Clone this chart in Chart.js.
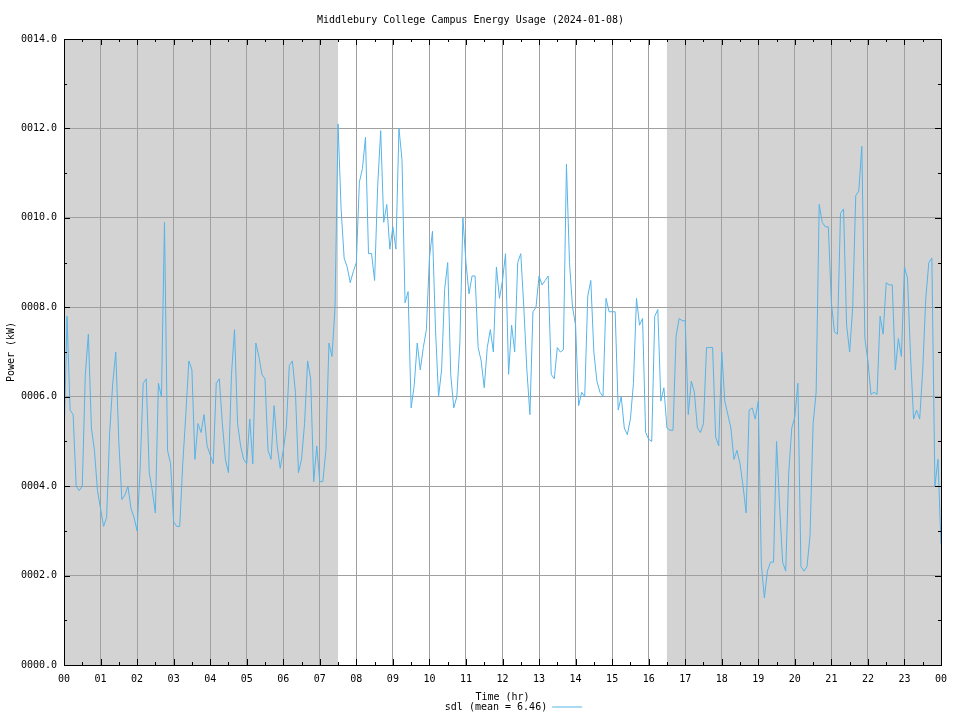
<!DOCTYPE html>
<html>
<head>
<meta charset="utf-8">
<title>Middlebury College Campus Energy Usage</title>
<script src="https://cdn.jsdelivr.net/npm/chart.js@4.4.1/dist/chart.umd.min.js"></script>
<style>
  html, body { margin: 0; padding: 0; background: #fff; }
  canvas { display: block; }
</style>
</head>
<body>
<canvas id="energy" width="960" height="720"></canvas>
<script>
const chartTitle = 'Middlebury College Campus Energy Usage (2024-01-08)'
const seriesLabel = 'sdl (mean = 6.46)'
const stepMinutes = 5 // one reading every 5 minutes

// kW readings, 00:00 - 07:55
const power00to07 = [
  5.0, 7.8, 5.7, 5.6, 4.0, 3.9, 4.0, 6.5, 7.4, 5.3, 4.8, 3.9,
  3.5, 3.1, 3.3, 5.2, 6.3, 7.0, 5.0, 3.7, 3.8, 4.0, 3.5, 3.3,
  3.0, 4.4, 6.3, 6.4, 4.3, 3.9, 3.4, 6.3, 6.0, 9.9, 4.8, 4.5,
  3.2, 3.1, 3.1, 4.5, 5.6, 6.8, 6.6, 4.6, 5.4, 5.2, 5.6, 4.9,
  4.7, 4.5, 6.3, 6.4, 5.4, 4.6, 4.3, 6.5, 7.5, 5.4, 4.9, 4.6,
  4.5, 5.5, 4.5, 7.2, 6.9, 6.5, 6.4, 4.8, 4.6, 5.8, 4.9, 4.4,
  4.8, 5.3, 6.7, 6.8, 6.1, 4.3, 4.6, 5.4, 6.8, 6.4, 4.1, 4.9,
  4.1, 4.1, 4.8, 7.2, 6.9, 8.0, 12.1, 10.2, 9.1, 8.9, 8.55, 8.8
]
// 08:00 - 15:55
const power08to15 = [
  9.0, 10.8, 11.1, 11.8, 9.2, 9.2, 8.6, 10.7, 11.95, 9.9, 10.3, 9.3,
  9.8, 9.3, 12.0, 11.3, 8.1, 8.35, 5.75, 6.25, 7.2, 6.6, 7.1, 7.5,
  9.1, 9.7, 7.5, 6.0, 6.6, 8.4, 9.0, 6.5, 5.75, 6.0, 7.2, 10.0,
  9.0, 8.3, 8.7, 8.7, 7.1, 6.8, 6.2, 7.1, 7.5, 7.0, 8.9, 8.2,
  8.6, 9.2, 6.5, 7.6, 7.0, 9.0, 9.2, 8.0, 6.6, 5.6, 7.9, 8.0,
  8.7, 8.5, 8.6, 8.7, 6.5, 6.4, 7.1, 7.0, 7.05, 11.2, 9.0, 8.0,
  7.6, 5.8, 6.1, 6.0, 8.25, 8.6, 7.0, 6.35, 6.1, 6.0, 8.2, 7.9,
  7.9, 7.9, 5.7, 6.0, 5.3, 5.15, 5.5, 6.3, 8.2, 7.6, 7.75, 5.2
]
// 16:00 - 24:00
const power16to24 = [
  5.05, 5.0, 7.8, 7.95, 5.9, 6.2, 5.3, 5.25, 5.25, 7.35, 7.75, 7.7,
  7.7, 5.6, 6.35, 6.1, 5.3, 5.2, 5.4, 7.1, 7.1, 7.1, 5.1, 4.9,
  7.0, 5.9, 5.6, 5.3, 4.6, 4.8, 4.5, 4.0, 3.4, 5.7, 5.75, 5.5,
  5.9, 2.25, 1.5, 2.1, 2.3, 2.3, 5.0, 3.55, 2.3, 2.1, 4.3, 5.3,
  5.55, 6.3, 2.2, 2.1, 2.2, 2.9, 5.4, 6.1, 10.3, 9.9, 9.8, 9.8,
  8.1, 7.45, 7.4, 10.1, 10.2, 7.6, 7.0, 8.0, 10.5, 10.6, 11.6, 7.3,
  6.8, 6.05, 6.1, 6.05, 7.8, 7.4, 8.55, 8.5, 8.5, 6.6, 7.3, 6.9,
  8.9, 8.65, 6.9, 5.5, 5.7, 5.5, 6.6, 8.2, 9.0, 9.1, 4.0, 4.6,
  2.7
]

const xTickLabels = ['00', '01', '02', '03', '04', '05', '06', '07', '08', '09', '10', '11',
  '12', '13', '14', '15', '16', '17', '18', '19', '20', '21', '22', '23', '00']
const yTickLabels = ['0000.0', '0002.0', '0004.0', '0006.0', '0008.0', '0010.0', '0012.0', '0014.0']
const offHours = [[0, 7.5], [16.5, 24]] // shaded (outside work hours)

const power = power00to07.concat(power08to15, power16to24)
const points = power.map((v, i) => ({ x: i * stepMinutes / 60, y: v }))

const mono = "'DejaVu Sans Mono', monospace"
Chart.defaults.font.family = mono
Chart.defaults.font.size = 10
Chart.defaults.color = '#000'

// grey bands behind the grid
const shading = {
  id: 'shading',
  beforeDraw(chart) {
    const { ctx, chartArea, scales: { x } } = chart
    ctx.save()
    ctx.fillStyle = '#d3d3d3'
    offHours.forEach(([a, b]) => {
      const x0 = x.getPixelForValue(a)
      const x1 = x.getPixelForValue(b)
      ctx.fillRect(x0, chartArea.top, x1 - x0, chartArea.bottom - chartArea.top)
    })
    ctx.restore()
  }
}

// gnuplot style frame with inward ticks on all four sides
const frame = {
  id: 'frame',
  afterDatasetsDraw(chart) {
    const { ctx, chartArea: { left, right, top, bottom }, scales: { x, y } } = chart
    ctx.save()
    ctx.strokeStyle = '#000'
    ctx.lineWidth = 1
    ctx.beginPath()
    for (let h = 0; h <= 24; h += 0.5) {
      const px = Math.round(x.getPixelForValue(h)) + 0.5
      const len = h % 1 === 0 ? 6 : 3
      ctx.moveTo(px, bottom); ctx.lineTo(px, bottom - len)
      ctx.moveTo(px, top); ctx.lineTo(px, top + len)
    }
    for (let v = 0; v <= 14; v += 1) {
      const py = Math.round(y.getPixelForValue(v)) + 0.5
      const len = v % 2 === 0 ? 6 : 3
      ctx.moveTo(left, py); ctx.lineTo(left + len, py)
      ctx.moveTo(right, py); ctx.lineTo(right - len, py)
    }
    ctx.stroke()
    ctx.strokeRect(left + 0.5, top + 0.5, right - left, bottom - top)
    ctx.restore()
  }
}

// nudge the legend so the key sits where gnuplot puts it
const legendShift = {
  id: 'legendShift',
  afterLayout(chart) {
    chart.legend.left += 11
    chart.legend.right += 11
  }
}

new Chart(document.getElementById('energy'), {
  type: 'line',
  data: {
    datasets: [{
      label: seriesLabel,
      data: points,
      borderColor: '#56B4E9',
      backgroundColor: '#56B4E9',
      borderWidth: 1,
      pointRadius: 0,
      tension: 0,
      fill: false
    }]
  },
  options: {
    responsive: false,
    animation: false,
    devicePixelRatio: 1,
    layout: { padding: { left: 0, right: 19, top: 0, bottom: 8 } },
    plugins: {
      title: {
        display: true,
        text: chartTitle,
        font: { size: 10, weight: 'normal' },
        color: '#000',
        padding: { top: 14, bottom: 13 }
      },
      legend: {
        position: 'bottom',
        fullSize: false,
        maxHeight: 10,
        rtl: true,
        textDirection: 'ltr',
        labels: {
          boxWidth: 30,
          boxHeight: 1,
          padding: 0,
          font: { size: 10 },
          generateLabels: () => [{
            text: seriesLabel,
            fillStyle: '#56B4E9',
            strokeStyle: '#56B4E9',
            lineWidth: 0,
            datasetIndex: 0
          }]
        }
      },
      tooltip: { enabled: false }
    },
    scales: {
      x: {
        type: 'linear',
        min: 0,
        max: 24,
        ticks: {
          stepSize: 1,
          autoSkip: false,
          maxRotation: 0,
          padding: 8,
          callback: (v) => xTickLabels[v]
        },
        grid: { color: '#a0a0a0', lineWidth: 1, drawTicks: false },
        border: { display: false },
        title: {
          display: true,
          text: 'Time (hr)',
          font: { size: 10, lineHeight: 1 },
          padding: { top: 7, bottom: 0 }
        },
        afterFit: (scale) => { scale.height = 37 }
      },
      y: {
        min: 0,
        max: 14,
        ticks: {
          stepSize: 2,
          padding: 7,
          callback: (v) => yTickLabels[v / 2]
        },
        grid: { color: '#a0a0a0', lineWidth: 1, drawTicks: false },
        border: { display: false },
        title: {
          display: true,
          text: 'Power (kW)',
          font: { size: 10 },
          padding: { top: 5, bottom: 0 }
        },
        afterFit: (scale) => { scale.width = 64 }
      }
    }
  },
  plugins: [shading, frame, legendShift]
})
</script>
</body>
</html>
